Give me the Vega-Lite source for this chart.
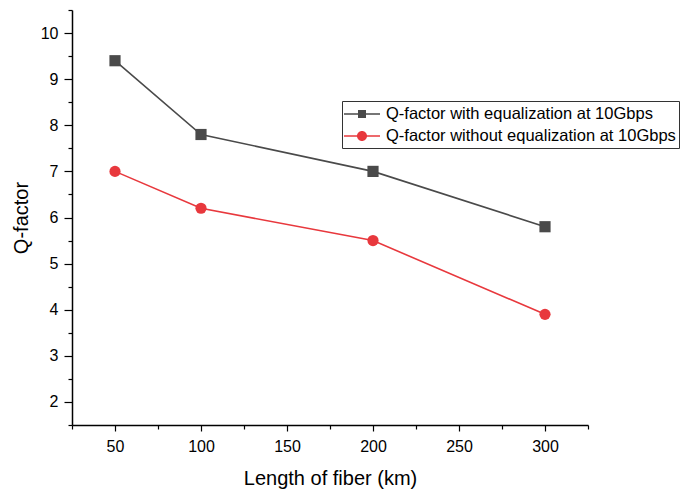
{
  "$schema": "https://vega.github.io/schema/vega-lite/v6.json",
  "autosize": "none",
  "padding": {"left": 72, "top": 10, "right": 93, "bottom": 69},
  "width": 516,
  "height": 415,
  "background": "white",
  "config": {
    "view": {"stroke": null},
    "font": "Liberation Sans",
    "axis": {
      "domainColor": "black",
      "domainWidth": 1.5,
      "tickColor": "black",
      "tickWidth": 1.2,
      "labelFont": "Liberation Sans",
      "titleFont": "Liberation Sans",
      "labelFontSize": 16,
      "titleFontSize": 20,
      "titleFontWeight": "normal",
      "labelColor": "black",
      "titleColor": "black",
      "grid": false
    }
  },
  "data": {
    "values": [
      {"length": 50, "q": 9.4, "series": "Q-factor with equalization at 10Gbps"},
      {"length": 100, "q": 7.8, "series": "Q-factor with equalization at 10Gbps"},
      {"length": 200, "q": 7.0, "series": "Q-factor with equalization at 10Gbps"},
      {"length": 300, "q": 5.8, "series": "Q-factor with equalization at 10Gbps"},
      {"length": 50, "q": 7.0, "series": "Q-factor without equalization at 10Gbps"},
      {"length": 100, "q": 6.2, "series": "Q-factor without equalization at 10Gbps"},
      {"length": 200, "q": 5.5, "series": "Q-factor without equalization at 10Gbps"},
      {"length": 300, "q": 3.9, "series": "Q-factor without equalization at 10Gbps"}
    ]
  },
  "encoding": {
    "x": {
      "field": "length",
      "type": "quantitative",
      "scale": {"domain": [25, 325], "nice": false, "zero": false},
      "axis": {
        "title": "Length of fiber (km)",
        "values": [25, 50, 75, 100, 125, 150, 175, 200, 225, 250, 275, 300, 325],
        "labelExpr": "datum.value % 50 === 0 ? format(datum.value, 'd') : ''",
        "tickSize": {"condition": {"test": "datum.value % 50 === 0", "value": 6}, "value": 4},
        "labelPadding": 7,
        "titlePadding": 14
      }
    },
    "y": {
      "field": "q",
      "type": "quantitative",
      "scale": {"domain": [1.5, 10.5], "nice": false, "zero": false},
      "axis": {
        "title": "Q-factor",
        "values": [1.5, 2, 2.5, 3, 3.5, 4, 4.5, 5, 5.5, 6, 6.5, 7, 7.5, 8, 8.5, 9, 9.5, 10, 10.5],
        "labelExpr": "datum.value % 1 === 0 ? format(datum.value, 'd') : ''",
        "tickSize": {"condition": {"test": "datum.value % 1 === 0", "value": 8}, "value": 4},
        "labelPadding": 6,
        "titlePadding": 9
      }
    }
  },
  "layer": [
    {
      "mark": {"type": "line", "strokeWidth": 1.6},
      "encoding": {
        "color": {
          "field": "series",
          "type": "nominal",
          "scale": {"range": ["#4a4a4a", "#e8383d"]},
          "legend": null
        }
      }
    },
    {
      "mark": {"type": "point", "filled": true, "opacity": 1, "size": 125},
      "encoding": {
        "shape": {
          "field": "series",
          "type": "nominal",
          "scale": {"range": ["square", "circle"]},
          "legend": null
        },
        "color": {
          "field": "series",
          "type": "nominal",
          "scale": {"range": ["#4a4a4a", "#e8383d"]},
          "legend": null
        }
      }
    },
    {
      "mark": {"type": "point", "filled": true, "opacity": 0},
      "encoding": {
        "shape": {
          "field": "series",
          "type": "nominal",
          "scale": {"range": [
            "M-1.8,-0.075H1.8V0.075H-1.8Z M-0.4,-0.4H0.4V0.4H-0.4Z",
            "M-1.8,-0.075H1.8V0.075H-1.8Z M-0.5,0A0.5,0.5 0 1,1 0.5,0A0.5,0.5 0 1,1 -0.5,0Z"
          ]},
          "legend": {
            "title": null,
            "orient": "none",
            "legendX": 270,
            "legendY": 91,
            "symbolSize": 400,
            "symbolOpacity": 1,
            "symbolStrokeWidth": 0,
            "symbolOffset": 7,
            "labelFontSize": 16.5,
            "labelFont": "Liberation Sans",
            "labelColor": "black",
            "labelLimit": 400,
            "labelOffset": 14,
            "rowPadding": 3,
            "strokeColor": "#333",
            "padding": 3,
            "fillColor": "white"
          }
        },
        "color": {
          "field": "series",
          "type": "nominal",
          "scale": {"range": ["#4a4a4a", "#e8383d"]},
          "legend": {
            "title": null,
            "orient": "none",
            "legendX": 270,
            "legendY": 91,
            "symbolSize": 400,
            "symbolOpacity": 1,
            "symbolStrokeWidth": 0,
            "symbolOffset": 7,
            "labelFontSize": 16.5,
            "labelFont": "Liberation Sans",
            "labelColor": "black",
            "labelLimit": 400,
            "labelOffset": 14,
            "rowPadding": 3,
            "strokeColor": "#333",
            "padding": 3,
            "fillColor": "white"
          }
        }
      }
    }
  ],
  "resolve": {
    "scale": {"shape": "independent", "color": "independent"},
    "legend": {"shape": "independent", "color": "independent"}
  }
}
